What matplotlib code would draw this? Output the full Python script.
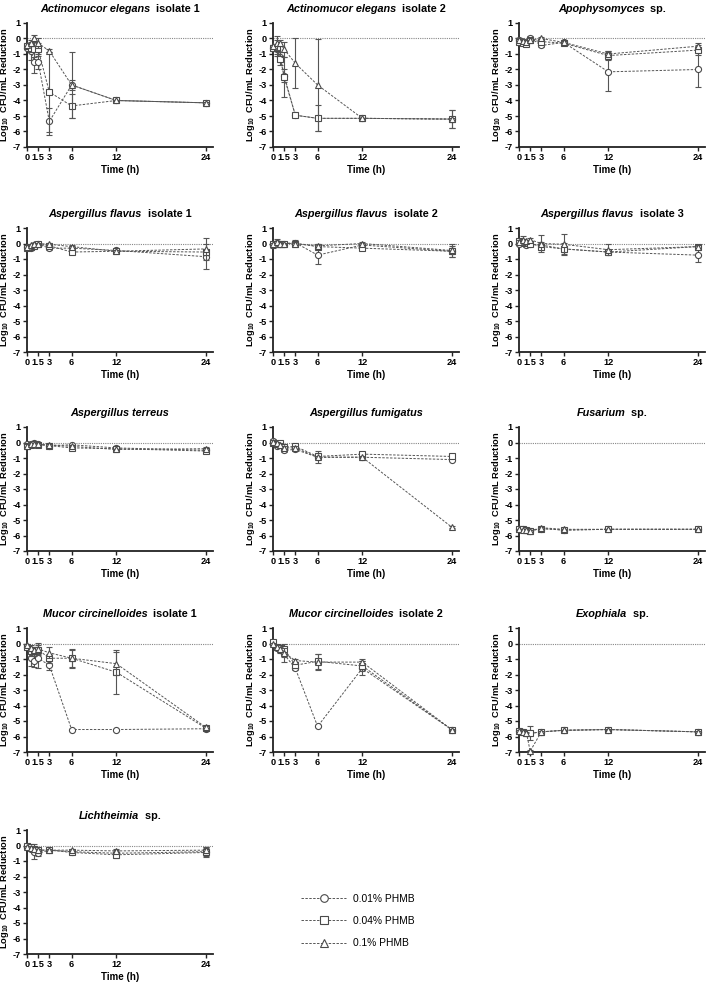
import matplotlib
matplotlib.use("Agg")
import matplotlib.pyplot as plt
from matplotlib.lines import Line2D
from matplotlib.offsetbox import TextArea, HPacker, AnchoredOffsetbox

plt.rcParams['font.family'] = ['Liberation Sans', 'DejaVu Sans']
plt.rcParams['mathtext.fontset'] = 'custom'
plt.rcParams['mathtext.rm'] = 'Liberation Sans:bold'
plt.rcParams['mathtext.bf'] = 'Liberation Sans:bold'

times = [0, 0.5, 1, 1.5, 3, 6, 12, 24]
xticks = [0, 1.5, 3, 6, 12, 24]
yticks = [1, 0, -1, -2, -3, -4, -5, -6, -7]
series_labels = ["0.01% PHMB", "0.04% PHMB", "0.1% PHMB"]

# each panel: rows = [0.01%, 0.04%, 0.1%]
ae1_mean = [[-0.6, -0.8, -1.5, -1.5, -5.35, -3.0, -4.0, -4.15],
            [-0.5, -0.6, -0.7, -0.7, -3.45, -4.35, -4.0, -4.15],
            [-0.4, -0.3, 0.0, -0.3, -0.8, -3.0, -4.0, -4.15]]
ae1_sd = [[0.1, 0.6, 0.7, 0.5, 0.85, 0.3, 0.05, 0.05],
          [0.1, 0.3, 0.5, 0.4, 2.6, 0.75, 0.05, 0.05],
          [0.1, 0.2, 0.2, 0.3, 0.1, 2.1, 0.05, 0.05]]

ae2_mean = [[-0.6, -0.7, -1.2, -2.4, -4.95, -5.15, -5.15, -5.2],
            [-0.6, -0.6, -1.3, -2.5, -4.95, -5.15, -5.15, -5.2],
            [-0.5, -0.3, -0.3, -0.7, -1.6, -3.0, -5.15, -5.2]]
ae2_sd = [[0.2, 0.3, 0.3, 0.4, 0.05, 0.05, 0.05, 0.6],
          [0.2, 0.5, 0.4, 1.3, 0.05, 0.85, 0.05, 0.6],
          [0.1, 0.45, 0.2, 0.5, 1.6, 2.95, 0.05, 0.1]]

apo_mean = [[-0.1, -0.2, -0.3, 0.05, -0.45, -0.25, -2.15, -2.0],
            [-0.2, -0.3, -0.35, -0.1, -0.2, -0.3, -1.1, -0.75],
            [-0.1, -0.15, -0.2, -0.1, 0.0, -0.25, -1.0, -0.5]]
apo_sd = [[0.1, 0.15, 0.1, 0.1, 0.1, 0.1, 1.25, 1.1],
          [0.1, 0.1, 0.15, 0.1, 0.1, 0.1, 0.3, 0.3],
          [0.1, 0.1, 0.1, 0.1, 0.1, 0.1, 0.2, 0.2]]

af1_mean = [[-0.2, -0.3, -0.1, -0.05, -0.3, -0.3, -0.45, -0.85],
            [-0.3, -0.2, -0.15, -0.05, -0.15, -0.55, -0.5, -0.55],
            [-0.2, -0.1, -0.05, 0.0, -0.05, -0.2, -0.5, -0.35]]
af1_sd = [[0.1, 0.1, 0.1, 0.05, 0.1, 0.1, 0.1, 0.8],
          [0.1, 0.1, 0.1, 0.05, 0.1, 0.1, 0.1, 0.2],
          [0.1, 0.1, 0.1, 0.05, 0.1, 0.1, 0.1, 0.7]]

af2_mean = [[-0.1, 0.05, 0.0, 0.0, 0.05, -0.75, -0.1, -0.5],
            [0.0, 0.0, -0.05, 0.0, 0.0, -0.2, -0.3, -0.5],
            [-0.05, 0.1, 0.0, 0.0, 0.0, -0.15, 0.0, -0.45]]
af2_sd = [[0.2, 0.1, 0.1, 0.05, 0.15, 0.6, 0.1, 0.2],
          [0.1, 0.1, 0.1, 0.05, 0.1, 0.1, 0.1, 0.35],
          [0.1, 0.2, 0.1, 0.05, 0.1, 0.1, 0.1, 0.4]]

af3_mean = [[0.0, 0.05, -0.1, -0.05, -0.1, -0.35, -0.55, -0.75],
            [0.15, 0.1, 0.05, 0.0, -0.2, -0.35, -0.55, -0.2],
            [0.1, 0.2, 0.15, 0.25, 0.0, -0.05, -0.4, -0.2]]
af3_sd = [[0.1, 0.1, 0.15, 0.1, 0.2, 0.2, 0.1, 0.45],
          [0.1, 0.1, 0.1, 0.1, 0.2, 0.4, 0.1, 0.1],
          [0.1, 0.3, 0.1, 0.1, 0.55, 0.65, 0.35, 0.1]]

ate_mean = [[-0.1, -0.1, -0.05, -0.1, -0.2, -0.15, -0.35, -0.5],
            [-0.2, -0.15, -0.1, -0.15, -0.2, -0.35, -0.4, -0.55],
            [-0.2, -0.1, -0.1, -0.1, -0.15, -0.25, -0.45, -0.4]]
ate_sd = [[0.1, 0.05, 0.05, 0.05, 0.05, 0.05, 0.05, 0.1],
          [0.1, 0.05, 0.05, 0.05, 0.05, 0.05, 0.05, 0.1],
          [0.1, 0.05, 0.05, 0.05, 0.05, 0.05, 0.05, 0.1]]

afu_mean = [[0.1, -0.2, -0.1, -0.5, -0.45, -0.95, -0.95, -1.1],
            [0.0, -0.1, -0.05, -0.3, -0.25, -0.9, -0.75, -0.9],
            [0.05, -0.05, -0.15, -0.35, -0.35, -0.95, -0.95, -5.45]]
afu_sd = [[0.1, 0.1, 0.1, 0.1, 0.1, 0.4, 0.15, 0.1],
          [0.1, 0.1, 0.1, 0.1, 0.1, 0.15, 0.1, 0.1],
          [0.1, 0.1, 0.1, 0.1, 0.1, 0.1, 0.1, 0.05]]

fus_mean = [[-5.6, -5.6, -5.65, -5.7, -5.55, -5.65, -5.6, -5.6],
            [-5.6, -5.6, -5.65, -5.7, -5.55, -5.65, -5.6, -5.6],
            [-5.6, -5.65, -5.65, -5.7, -5.5, -5.6, -5.6, -5.6]]
fus_sd = [[0.05, 0.05, 0.05, 0.05, 0.05, 0.05, 0.05, 0.05],
          [0.05, 0.05, 0.05, 0.05, 0.05, 0.05, 0.05, 0.05],
          [0.05, 0.05, 0.05, 0.05, 0.05, 0.05, 0.05, 0.05]]

mc1_mean = [[-0.2, -0.95, -1.1, -0.95, -1.4, -5.55, -5.55, -5.5],
            [-0.2, -0.5, -0.5, -0.4, -0.95, -0.95, -1.85, -5.45],
            [-0.1, -0.3, -0.4, -0.35, -0.6, -0.95, -1.3, -5.4]]
mc1_sd = [[0.1, 0.5, 0.4, 0.6, 0.3, 0.05, 0.05, 0.1],
          [0.1, 0.3, 0.3, 0.3, 0.3, 0.55, 1.4, 0.15],
          [0.1, 0.2, 0.2, 0.4, 0.35, 0.6, 0.75, 0.1]]

mc2_mean = [[0.0, -0.3, -0.45, -0.7, -1.6, -5.35, -1.6, -5.55],
            [0.1, -0.2, -0.3, -0.35, -1.4, -1.15, -1.45, -5.55],
            [-0.05, -0.2, -0.35, -0.6, -1.1, -1.2, -1.2, -5.55]]
mc2_sd = [[0.1, 0.1, 0.15, 0.5, 0.1, 0.05, 0.45, 0.05],
          [0.1, 0.1, 0.15, 0.3, 0.2, 0.5, 0.3, 0.05],
          [0.1, 0.1, 0.1, 0.3, 0.1, 0.5, 0.2, 0.05]]

exo_mean = [[-5.65, -5.7, -5.75, -5.8, -5.7, -5.6, -5.55, -5.7],
            [-5.65, -5.7, -5.75, -5.8, -5.7, -5.6, -5.55, -5.7],
            [-5.65, -5.7, -5.75, -6.95, -5.7, -5.6, -5.55, -5.7]]
exo_sd = [[0.05, 0.05, 0.05, 0.05, 0.05, 0.05, 0.05, 0.05],
          [0.05, 0.05, 0.05, 0.45, 0.05, 0.05, 0.05, 0.05],
          [0.05, 0.05, 0.05, 0.05, 0.05, 0.05, 0.05, 0.05]]

lic_mean = [[-0.1, -0.2, -0.4, -0.5, -0.3, -0.4, -0.5, -0.4],
            [-0.05, -0.1, -0.2, -0.3, -0.3, -0.45, -0.6, -0.45],
            [-0.1, -0.15, -0.2, -0.3, -0.3, -0.3, -0.35, -0.3]]
lic_sd = [[0.1, 0.1, 0.5, 0.2, 0.1, 0.1, 0.2, 0.3],
          [0.1, 0.1, 0.1, 0.1, 0.1, 0.1, 0.2, 0.3],
          [0.1, 0.1, 0.1, 0.1, 0.1, 0.1, 0.1, 0.2]]

titles = [("Actinomucor elegans", " isolate 1"),
          ("Actinomucor elegans", " isolate 2"),
          ("Apophysomyces", " sp."),
          ("Aspergillus flavus", " isolate 1"),
          ("Aspergillus flavus", " isolate 2"),
          ("Aspergillus flavus", " isolate 3"),
          ("Aspergillus terreus", ""),
          ("Aspergillus fumigatus", ""),
          ("Fusarium", " sp."),
          ("Mucor circinelloides", " isolate 1"),
          ("Mucor circinelloides", " isolate 2"),
          ("Exophiala", " sp."),
          ("Lichtheimia", " sp.")]
means = [ae1_mean, ae2_mean, apo_mean, af1_mean, af2_mean, af3_mean, ate_mean,
         afu_mean, fus_mean, mc1_mean, mc2_mean, exo_mean, lic_mean]
sds = [ae1_sd, ae2_sd, apo_sd, af1_sd, af2_sd, af3_sd, ate_sd,
       afu_sd, fus_sd, mc1_sd, mc2_sd, exo_sd, lic_sd]

W, H = 706, 990
fig = plt.figure(figsize=(W / 100, H / 100), dpi=100)

col_left = [27, 273, 519]
ax_w = 186
row_top = [23, 228, 427, 628, 830]
ax_h = 124

markers = ['o', 's', '^']
line_col = '#555555'
edge_col = '#4a4a4a'
dash = (0, (2.5, 1.5))

for i, (ttl, m, s) in enumerate(zip(titles, means, sds)):
    r, c = divmod(i, 3)
    ax = fig.add_axes([col_left[c] / W, 1 - (row_top[r] + ax_h) / H, ax_w / W, ax_h / H])
    ax.axhline(0, color='#888888', lw=0.8, ls=(0, (1, 1)), zorder=1)
    for k in range(3):
        ax.errorbar(times, m[k], yerr=s[k], color=line_col, ecolor='#555555',
                    elinewidth=0.8, capsize=2, capthick=0.8, lw=0.7, ls=dash,
                    marker=markers[k], ms=4.4 if k < 2 else 4.8, mfc='white',
                    mec=edge_col, mew=0.8, zorder=3 + k, clip_on=False)
    ax.set_xlim(0, 25)
    ax.set_ylim(-7, 1)
    ax.set_xticks(xticks)
    ax.set_xticklabels([f"{t:g}" for t in xticks])
    ax.set_yticks(yticks)
    ax.set_yticklabels([f"{t:d}" for t in yticks])
    for sp in ['top', 'right']:
        ax.spines[sp].set_visible(False)
    for sp in ['left', 'bottom']:
        ax.spines[sp].set_linewidth(1.3)
        ax.spines[sp].set_color('#222222')
    ax.tick_params(axis='both', length=3, width=1.0, color='#222222', pad=1.5,
                   labelsize=6.6)
    for lab in ax.get_xticklabels() + ax.get_yticklabels():
        lab.set_fontweight('bold')
    ax.set_xlabel("Time (h)", fontsize=7, fontweight='bold', labelpad=2)
    ax.set_ylabel(r"Log$_{\mathbf{10}}$  CFU/mL Reduction", fontsize=6.7,
                  fontweight='bold', labelpad=1)
    parts = [TextArea(ttl[0], textprops=dict(fontsize=7.8, fontweight='bold',
                                             fontstyle='italic'))]
    if ttl[1]:
        parts.append(TextArea(ttl[1], textprops=dict(fontsize=7.8, fontweight='bold')))
    box = HPacker(children=parts, align='baseline', pad=0, sep=2)
    anch = AnchoredOffsetbox(loc='lower center', child=box, pad=0, frameon=False,
                             bbox_to_anchor=(0.5, 1.07), bbox_transform=ax.transAxes,
                             borderpad=0)
    ax.add_artist(anch)

handles = [Line2D([], [], color=line_col, lw=0.7, ls=dash, marker=markers[k],
                  ms=5.5, mfc='white', mec=edge_col, mew=0.8) for k in range(3)]
fig.legend(handles, series_labels, loc='center left',
           bbox_to_anchor=(292 / W, 1 - 921 / H), frameon=False, fontsize=7.4,
           handlelength=4.4, labelspacing=1.2, handletextpad=0.6)

fig.savefig("out.png", dpi=100)
